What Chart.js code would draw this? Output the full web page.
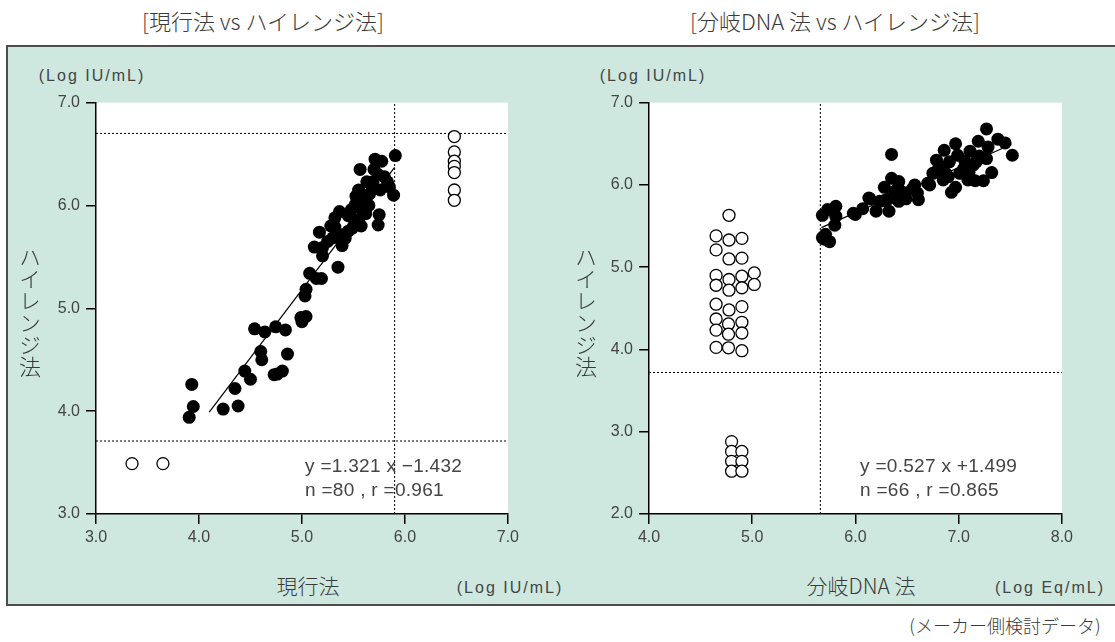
<!DOCTYPE html>
<html><head><meta charset="utf-8">
<script src="https://cdn.jsdelivr.net/npm/chart.js@4"></script>
<style>
body{margin:0;width:1115px;height:642px;background:#fff;position:relative;overflow:hidden;font-family:"Noto Sans CJK JP",sans-serif;color:#333}
.panel{position:absolute;left:6px;top:45px;width:1115px;height:561px;background:#cee8e0;border:2px solid #4d4d4d;border-right:none;box-sizing:border-box}
canvas{position:absolute;z-index:1}
.t{position:absolute;white-space:nowrap;transform:translate(-50%,-50%);line-height:1;z-index:2}
.jp{font-family:"Noto Sans CJK JP",sans-serif;color:#3a3a3a;font-weight:300}
.lat{font-family:"Liberation Sans",sans-serif;color:#444}
.vert{writing-mode:vertical-rl;text-orientation:upright;font-size:22px}
.ann{position:absolute;font-family:"Liberation Sans",sans-serif;color:#444;font-size:19px;letter-spacing:0.3px;white-space:nowrap;line-height:1;z-index:3}
</style></head>
<body>
<div class="panel"></div>
<div class="t jp" style="left:263px;top:20px;font-size:22px">[現行法 vs ハイレンジ法]</div>
<div class="t jp" style="left:835px;top:20px;font-size:22px">[分岐DNA 法 vs ハイレンジ法]</div>
<div class="t lat" style="left:92px;top:76px;font-size:16px;letter-spacing:2px">(Log IU/mL)</div>
<div class="t lat" style="left:653px;top:76px;font-size:16px;letter-spacing:2px">(Log IU/mL)</div>
<div class="t jp vert" style="left:30px;top:312px">ハイレンジ法</div>
<div class="t jp vert" style="left:586px;top:312px">ハイレンジ法</div>
<div class="t jp" style="left:308px;top:585px;font-size:21px">現行法</div>
<div class="t lat" style="left:510px;top:588px;font-size:16px;letter-spacing:2px">(Log IU/mL)</div>
<div class="t jp" style="left:861px;top:585px;font-size:21px">分岐DNA 法</div>
<div class="t lat" style="left:1050px;top:588px;font-size:16px;letter-spacing:2px">(Log Eq/mL)</div>
<div class="t jp" style="left:1005px;top:625px;font-size:18px">(メーカー側検討データ)</div>
<canvas id="c1" width="483" height="473" style="left:40px;top:87px"></canvas>
<canvas id="c2" width="483" height="473" style="left:594px;top:87px"></canvas>
<div class="ann" style="left:305px;top:456px">y =1.321 x  −1.432</div>
<div class="ann" style="left:305px;top:480px">n =80 , r =0.961</div>
<div class="ann" style="left:860px;top:456px">y =0.527 x +1.499</div>
<div class="ann" style="left:860px;top:480px">n =66 , r =0.865</div>
<script>
// ---- Left chart: 現行法 vs ハイレンジ法 ----
const leftXTicks = [3.0, 4.0, 5.0, 6.0, 7.0];
const leftYTicks = [3.0, 4.0, 5.0, 6.0, 7.0];
const leftFilledX = [5.907,5.71,5.775,5.565,5.70,5.74,5.63,5.69,5.83,5.76,5.89,5.655,5.525,5.52,5.65,5.58,5.48,5.365,5.75,5.74,5.32,5.55,5.51,5.575,5.49,5.32,5.17,5.30,5.42,5.39,5.12,5.20,5.20,5.35,5.075,5.19,5.14,5.04,5.03,4.99,5.04,5.00,4.54,4.64,4.745,4.84,4.60,4.61,4.86,4.445,4.50,4.73,4.81,4.35,4.235,4.38,3.93,3.945,3.905,5.60,5.45,5.62,5.80,5.36,5.68,5.28,5.45,5.55,5.85,5.25,4.76];
const leftFilledY = [6.485,6.45,6.43,6.35,6.35,6.30,6.23,6.23,6.23,6.15,6.10,6.11,6.09,6.01,6.00,5.96,5.96,5.94,5.91,5.81,5.88,5.86,5.85,5.80,5.78,5.79,5.74,5.685,5.68,5.61,5.595,5.59,5.51,5.40,5.34,5.29,5.29,5.185,5.12,4.91,4.92,4.87,4.80,4.77,4.82,4.79,4.58,4.50,4.555,4.39,4.31,4.355,4.39,4.22,4.02,4.05,4.26,4.045,3.94,6.05,5.90,5.92,6.28,5.72,6.18,5.80,5.75,6.15,6.18,5.65,4.36];
const leftOpenX = [3.35,3.65,6.48,6.48,6.48,6.48,6.48,6.48,6.48];
const leftOpenY = [3.49,3.49,6.67,6.52,6.43,6.38,6.32,6.15,6.05];
const leftFitX = [4.10, 5.90];
const leftFitY = [3.99, 6.37];
const leftRefH = [6.70, 3.71];
const leftRefV = [5.90];

// ---- Right chart: 分岐DNA 法 vs ハイレンジ法 ----
const rightXTicks = [4.0, 5.0, 6.0, 7.0, 8.0];
const rightYTicks = [2.0, 3.0, 4.0, 5.0, 6.0, 7.0];
const rightFilledX = [5.68,5.73,5.81,5.81,5.80,5.71,5.70,5.75,5.68,5.98,6.07,6.14,6.20,6.235,6.28,6.325,6.32,6.35,6.35,6.38,6.42,6.42,6.445,6.49,6.575,6.60,6.61,6.72,6.75,6.785,6.785,6.86,6.85,6.875,6.91,6.93,6.97,6.97,6.99,7.01,7.06,7.09,7.11,7.14,7.16,7.17,7.19,7.24,7.27,7.27,7.285,7.32,7.38,7.45,7.52,6.81,6.41,6.28,6.00,6.13,7.05,6.70,7.20,6.55,6.90,7.10];
const rightFilledY = [5.63,5.70,5.74,5.62,5.51,5.40,5.34,5.31,5.36,5.655,5.71,5.83,5.68,5.80,5.97,5.68,5.83,6.37,6.08,5.92,6.04,5.80,5.92,5.83,6.00,5.90,5.82,6.00,6.14,6.16,6.30,6.42,6.06,6.14,6.28,5.91,5.97,6.50,6.36,6.14,6.29,6.06,6.41,6.24,6.05,6.28,6.53,6.05,6.68,6.32,6.46,6.15,6.555,6.51,6.36,6.23,5.96,5.81,5.64,5.84,6.20,6.02,6.35,5.95,6.10,6.15];
const rightOpenX = [4.775,4.65,4.775,4.90,4.65,4.775,4.90,4.65,4.775,4.90,5.02,4.65,4.775,4.90,5.02,4.65,4.775,4.90,4.65,4.77,4.90,4.65,4.77,4.90,4.65,4.77,4.90,4.80,4.80,4.90,4.80,4.90,4.80,4.90];
const rightOpenY = [5.63,5.38,5.33,5.35,5.21,5.10,5.11,4.90,4.85,4.89,4.93,4.78,4.72,4.75,4.79,4.55,4.48,4.52,4.37,4.31,4.33,4.235,4.185,4.20,4.025,4.02,3.985,2.88,2.76,2.76,2.64,2.64,2.52,2.52];
const rightFitX = [5.67, 7.51];
const rightFitY = [5.48, 6.49];
const rightRefH = [3.72];
const rightRefV = [5.66];

const pts = (xs, ys) => xs.map((x, i) => ({x, y: ys[i]}));

const whiteArea = {
  id: 'whiteArea',
  beforeDraw(chart) {
    const a = chart.chartArea, ctx = chart.ctx;
    ctx.save(); ctx.fillStyle = '#ffffff';
    ctx.fillRect(a.left, a.top, a.right - a.left, a.bottom - a.top);
    ctx.restore();
  }
};

function makeChart(id, xTicks, yTicks, fX, fY, oX, oY, fitX, fitY, refH, refV, yWidth) {
  const xMin = xTicks[0], xMax = xTicks[xTicks.length - 1];
  const yMin = yTicks[0], yMax = yTicks[yTicks.length - 1];
  const datasets = [
    {data: pts(fX, fY), pointRadius: 6.5, pointBackgroundColor: '#000', pointBorderColor: '#000', pointBorderWidth: 0, showLine: false, order: 0},
    {data: pts(oX, oY), pointRadius: 6, pointBackgroundColor: '#fff', pointBorderColor: '#000', pointBorderWidth: 1.3, showLine: false, order: 0},
    {data: pts(fitX, fitY), showLine: true, pointRadius: 0, borderColor: '#000', borderWidth: 1.2, order: 3}
  ];
  refH.forEach(h => datasets.push({data: [{x: xMin, y: h}, {x: xMax, y: h}], showLine: true, pointRadius: 0, borderColor: '#000', borderWidth: 1, borderDash: [2, 2], order: 5}));
  refV.forEach(v => datasets.push({data: [{x: v, y: yMin}, {x: v, y: yMax}], showLine: true, pointRadius: 0, borderColor: '#000', borderWidth: 1, borderDash: [2, 2], order: 5}));
  const tickFont = {family: 'Liberation Sans', size: 16};
  new Chart(document.getElementById(id), {
    type: 'scatter',
    data: {datasets},
    plugins: [whiteArea],
    options: {
      responsive: false, animation: false, devicePixelRatio: 1,
      layout: {padding: {top: 11, right: 11, left: 0, bottom: 0}},
      plugins: {legend: {display: false}, tooltip: {enabled: false}},
      scales: {
        x: {
          type: 'linear', min: xMin, max: xMax,
          afterBuildTicks: s => { s.ticks = xTicks.map(v => ({value: v})); },
          afterFit: s => { s.height = 46; },
          ticks: {color: '#444', font: tickFont, padding: 4, maxRotation: 0, autoSkip: false, callback: v => Number(v).toFixed(1)},
          grid: {drawOnChartArea: false, drawTicks: true, tickLength: 10, color: '#000', lineWidth: 1.5},
          border: {display: true, color: '#000', width: 1.5}
        },
        y: {
          type: 'linear', min: yMin, max: yMax,
          afterBuildTicks: s => { s.ticks = yTicks.map(v => ({value: v})); },
          afterFit: s => { s.width = yWidth; },
          ticks: {color: '#444', font: tickFont, padding: 6, autoSkip: false, callback: v => Number(v).toFixed(1)},
          grid: {drawOnChartArea: false, drawTicks: true, tickLength: 10, color: '#000', lineWidth: 1.5},
          border: {display: true, color: '#000', width: 1.5}
        }
      }
    }
  });
}

makeChart('c1', leftXTicks, leftYTicks, leftFilledX, leftFilledY, leftOpenX, leftOpenY, leftFitX, leftFitY, leftRefH, leftRefV, 56);
makeChart('c2', rightXTicks, rightYTicks, rightFilledX, rightFilledY, rightOpenX, rightOpenY, rightFitX, rightFitY, rightRefH, rightRefV, 55);
</script>
</body></html>
